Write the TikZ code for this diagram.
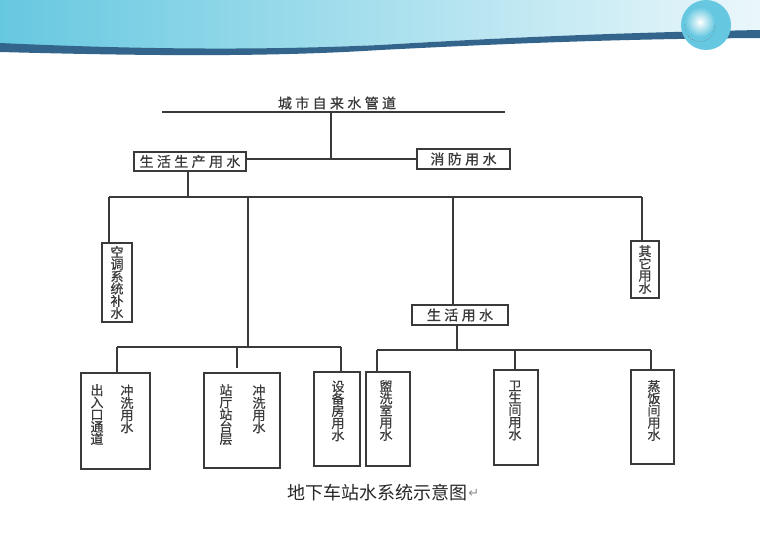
\documentclass[tikz,border=0pt]{standalone}
\usepackage{fontspec}
\usetikzlibrary{positioning}
\newfontfamily\cjk{Noto Sans CJK SC}
\newfontfamily\cjkthick[FakeBold=0.8]{Noto Sans CJK SC}
\newfontfamily\cjkwide[LetterSpace=24,FakeBold=0.8]{Noto Sans CJK SC}
\newfontfamily\symfont{DejaVu Sans}
\definecolor{ballblue}{HTML}{66C8E0}
\definecolor{palesky}{HTML}{EAF7FB}
\definecolor{bandblue}{HTML}{33658C}
\definecolor{scanink}{HTML}{3A3A3A}
\tikzset{
	waterbox/.style 2 args={draw=scanink, line width=1.3pt, minimum width=#1, minimum height=#2, inner sep=0pt, text=scanink},
	wideword/.style={font=\cjkwide\fontsize{14}{14}\selectfont},
	upright/.style={font=\cjkthick\fontsize{13}{12.2}\selectfont, align=center, inner sep=0pt, text=scanink},
	pipe/.style={draw=scanink, line width=1.3pt}
}

\begin{document}
\begin{tikzpicture}[x=1pt, y=-1pt]
			%%%%% BANNER %%%%%
			\useasboundingbox (0, 0) rectangle (760, 533);
			\shade[left color=ballblue, right color=palesky] (0, 0) -- (0, 44) .. controls (150, 51) and (270, 51) .. (380, 45) .. controls (480, 39) and (600, 33) .. (760, 31) -- (760, 0) -- cycle;
			\fill[bandblue] (0, 43) .. controls (150, 50) and (270, 50) .. (380, 45) .. controls (480, 39) and (600, 33) .. (760, 30) -- (760, 38) .. controls (600, 39) and (480, 45) .. (380, 50) .. controls (270, 57) and (150, 56) .. (0, 52) -- cycle;
			\fill[ballblue] (706, 25) circle (25);
			\shade[inner color=white, outer color=ballblue] (700, 22) circle (15);
			\draw[black!55, line width=0.6pt, dotted] (685, 24) arc (190:-10:15);

			%%%%% TOP %%%%%
			\coordinate (mainleft) at (162, 112);
			\coordinate (mainright) at (505, 112);
			\coordinate (maintap) at (331, 112);
			\node[text=scanink, wideword, inner sep=0pt] (mainlabel) at (337, 103) {城市自来水管道};
			\draw[pipe] (mainleft) -- (mainright);

			\node[waterbox={112}{19}, wideword] (living) at (190, 161.5) {生活生产用水};
			\node[waterbox={93}{20}, wideword] (fire) at (463.5, 159) {消防用水};
			\coordinate (firetap) at (maintap |- fire.west);
			\draw[pipe] (maintap) -- (firetap);
			\draw[pipe] (living.east |- fire.west) -- (fire.west);

			%%%%% MIDDLE %%%%%
			\coordinate (livingdown) at (188, 197);
			\coordinate (midleft) at (109, 197);
			\coordinate (midright) at (642, 197);
			\coordinate (midstair) at (248, 197);
			\coordinate (middaily) at (453, 197);
			\draw[pipe] (livingdown |- living.south) -- (livingdown);
			\draw[pipe] (midleft) -- (midright);

			\node[waterbox={30}{79}, upright] (aircon) at (117, 282.5) {空\\调\\系\\统\\补\\水};
			\node[waterbox={28}{57}, upright] (other) at (645, 269.5) {其\\它\\用\\水};
			\node[waterbox={96}{20}, wideword] (daily) at (460, 315) {生活用水};
			\draw[pipe] (midleft) -- (midleft |- aircon.north);
			\draw[pipe] (midright) -- (midright |- other.north);
			\draw[pipe] (middaily) -- (middaily |- daily.north);

			%%%%% LEFT GROUP %%%%%
			\coordinate (stairend) at (248, 347);
			\coordinate (lowleft) at (117, 347);
			\coordinate (lowmid) at (237, 347);
			\coordinate (lowright) at (341, 347);
			\coordinate (lowmidend) at (237, 368);
			\draw[pipe] (midstair) -- (stairend);
			\draw[pipe] (lowleft) -- (lowright);

			\node[waterbox={69}{96}] (entrance) at (115.5, 421) {};
			\node[waterbox={76}{95}] (station) at (242, 420.5) {};
			\node[waterbox={46}{94}] (equip) at (337, 419) {};
			\draw[pipe] (lowleft) -- (lowleft |- entrance.north);
			\draw[pipe] (lowmid) -- (lowmidend);
			\draw[pipe] (lowright) -- (lowright |- equip.north);

			\node[upright] (entranceflush) at (127, 409) {冲\\洗\\用\\水};
			\node[upright] (entranceword) at (97, 414.5) {出\\入\\口\\通\\道};
			\node[upright] (stationflush) at (259, 409) {冲\\洗\\用\\水};
			\node[upright] (stationword) at (226, 414.5) {站\\厅\\站\\台\\层};
			\node[upright] (equipword) at (338, 411) {设\\备\\房\\用\\水};

			%%%%% RIGHT GROUP %%%%%
			\coordinate (dailydown) at (457, 350);
			\coordinate (washtap) at (377, 350);
			\coordinate (toilettap) at (515, 350);
			\coordinate (steamtap) at (651, 350);
			\draw[pipe] (dailydown |- daily.south) -- (dailydown);
			\draw[pipe] (washtap) -- (steamtap);

			\node[waterbox={44}{94}] (wash) at (388, 419) {};
			\node[waterbox={44}{95}] (toilet) at (516, 417.5) {};
			\node[waterbox={43}{94}] (steam) at (652.5, 417) {};
			\draw[pipe] (washtap) -- (washtap |- wash.north);
			\draw[pipe] (toilettap) -- (toilettap |- toilet.north);
			\draw[pipe] (steamtap) -- (steamtap |- steam.north);

			\node[upright] (washword) at (386, 410.5) {盥\\洗\\室\\用\\水};
			\node[upright] (toiletword) at (515, 410.5) {卫\\生\\间\\用\\水};
			\node[upright] (steamword) at (654, 410.5) {蒸\\饭\\间\\用\\水};

			%%%%% CAPTION %%%%%
			\node[font=\cjk\fontsize{18}{18}\selectfont, inner sep=0pt, text=black!85] (caption) at (377, 493) {地下车站水系统示意图};
			\node[font=\symfont\fontsize{13}{13}\selectfont, inner sep=0pt, text=black!45, right=1pt of caption] (returnmark) {↵};
		\end{tikzpicture}
\end{document}
